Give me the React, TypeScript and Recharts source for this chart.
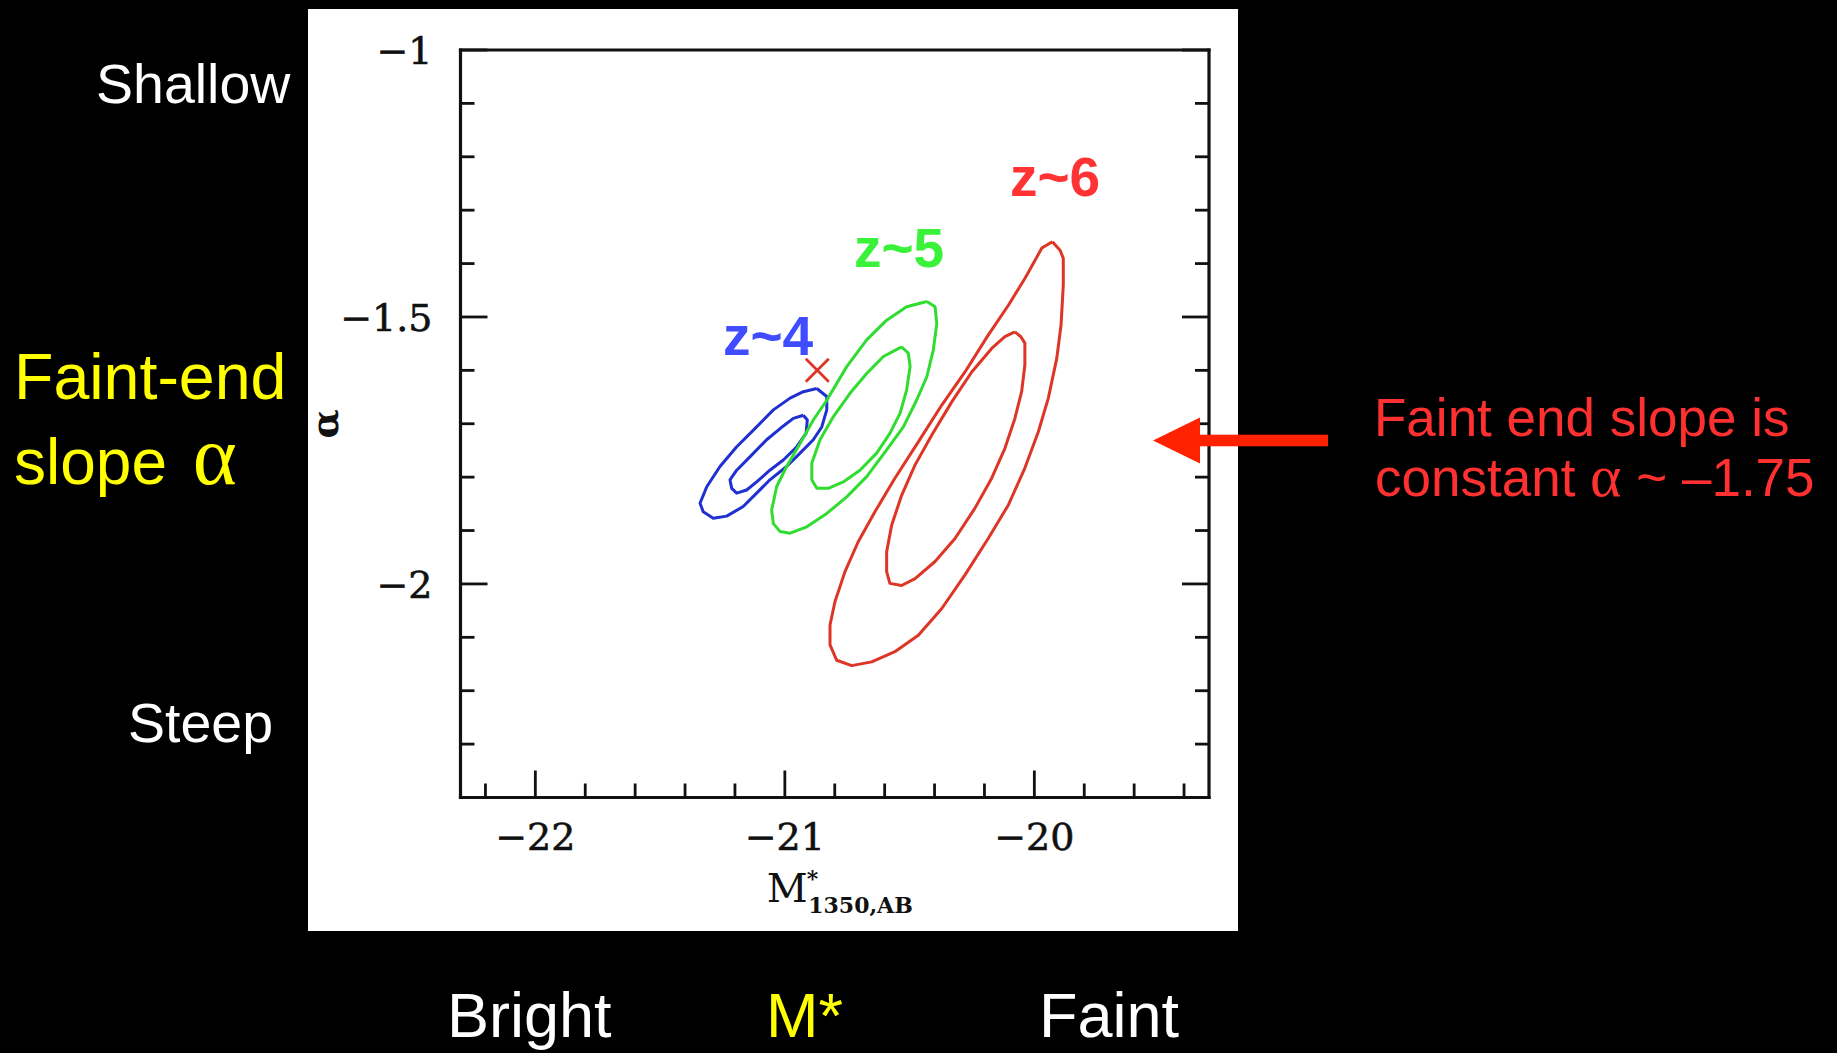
import React from 'react';
import { ComposedChart, Scatter, XAxis, YAxis } from 'recharts';

// confidence contours in the (M*, alpha) plane
const blueOuter = [
  [-20.872, -1.634], [-20.832, -1.649], [-20.832, -1.674], [-20.852, -1.706], [-20.886, -1.730],
  [-20.939, -1.755], [-20.993, -1.780], [-21.060, -1.805], [-21.113, -1.830], [-21.167, -1.855],
  [-21.233, -1.873], [-21.287, -1.877], [-21.327, -1.865], [-21.340, -1.849], [-21.313, -1.818],
  [-21.260, -1.780], [-21.193, -1.743], [-21.126, -1.712], [-21.046, -1.674], [-20.979, -1.652],
  [-20.926, -1.640],
];
const blueInner = [
  [-20.926, -1.684], [-20.910, -1.693], [-20.915, -1.718], [-20.952, -1.743], [-21.006, -1.768],
  [-21.060, -1.787], [-21.113, -1.809], [-21.153, -1.824], [-21.193, -1.830], [-21.213, -1.821],
  [-21.220, -1.805], [-21.193, -1.787], [-21.140, -1.762], [-21.073, -1.730], [-21.019, -1.709],
  [-20.966, -1.690],
];
const greenOuter = [
  [-20.431, -1.471], [-20.398, -1.481], [-20.391, -1.512], [-20.405, -1.562], [-20.431, -1.612],
  [-20.472, -1.656], [-20.525, -1.706], [-20.592, -1.749], [-20.672, -1.799], [-20.752, -1.837],
  [-20.832, -1.868], [-20.912, -1.893], [-20.979, -1.905], [-21.019, -1.902], [-21.046, -1.887],
  [-21.053, -1.862], [-21.033, -1.818], [-20.993, -1.780], [-20.939, -1.737], [-20.886, -1.693],
  [-20.832, -1.656], [-20.752, -1.593], [-20.672, -1.543], [-20.592, -1.506], [-20.512, -1.481],
];
const greenInner = [
  [-20.532, -1.556], [-20.505, -1.568], [-20.498, -1.593], [-20.512, -1.637], [-20.538, -1.680],
  [-20.579, -1.718], [-20.632, -1.755], [-20.699, -1.787], [-20.766, -1.809], [-20.826, -1.821],
  [-20.872, -1.821], [-20.892, -1.805], [-20.892, -1.774], [-20.859, -1.730], [-20.806, -1.687],
  [-20.739, -1.643], [-20.672, -1.606], [-20.605, -1.574],
];
const redOuter = [
  [-19.928, -1.359], [-19.897, -1.375], [-19.884, -1.390], [-19.884, -1.440], [-19.893, -1.515],
  [-19.910, -1.577], [-19.944, -1.652], [-19.984, -1.715], [-20.038, -1.783], [-20.104, -1.852],
  [-20.185, -1.915], [-20.278, -1.983], [-20.371, -2.046], [-20.465, -2.096], [-20.559, -2.127],
  [-20.652, -2.146], [-20.732, -2.153], [-20.792, -2.143], [-20.819, -2.114], [-20.819, -2.077],
  [-20.799, -2.033], [-20.759, -1.977], [-20.706, -1.921], [-20.639, -1.865], [-20.559, -1.802],
  [-20.465, -1.734], [-20.371, -1.665], [-20.278, -1.603], [-20.185, -1.534], [-20.104, -1.478],
  [-20.038, -1.428], [-19.970, -1.371],
];
const redInner = [
  [-20.078, -1.528], [-20.054, -1.537], [-20.038, -1.549], [-20.038, -1.590], [-20.051, -1.640],
  [-20.078, -1.690], [-20.118, -1.746], [-20.171, -1.802], [-20.238, -1.858], [-20.318, -1.915],
  [-20.398, -1.958], [-20.478, -1.990], [-20.532, -2.003], [-20.579, -1.999], [-20.592, -1.977],
  [-20.592, -1.940], [-20.572, -1.890], [-20.532, -1.834], [-20.478, -1.777], [-20.411, -1.721],
  [-20.331, -1.659], [-20.251, -1.603], [-20.171, -1.559], [-20.118, -1.537],
];
const bestFit = [[-20.87, -1.6]];

const xDomain = [-22.3, -19.3];
const yDomain = [-2.4, -1];
const xTicks = [-22.2, -22, -21.8, -21.6, -21.4, -21.2, -21, -20.8, -20.6, -20.4, -20.2, -20, -19.8, -19.6, -19.4];
const xMajor = [-22, -21, -20];
const yTicks = [-1, -1.1, -1.2, -1.3, -1.4, -1.5, -1.6, -1.7, -1.8, -1.9, -2, -2.1, -2.2, -2.3];
const yMajor = [-1, -1.5, -2];

const INK = '#111';
const MAJ = 27;
const MIN = 14;
const TW = 2.8;
const SERIF = '"DejaVu Serif", serif';
const SANS = '"Liberation Sans", Arial, sans-serif';

const toPts = (arr: number[][], close = true) => {
  const pts = arr.map(([x, y]) => ({ x, y }));
  return close ? [...pts, pts[0]] : pts;
};
const isMajor = (list: number[], v: number) => list.some((m) => Math.abs(m - v) < 1e-6);
const fmt = (v: number) => (v < 0 ? '\u2212' : '') + Math.abs(v);

const BottomTick = (p: any) => {
  const x = p.x;
  const y = p.y2 ?? p.y;
  const major = isMajor(xMajor, p.payload.value);
  return (
    <g>
      <line x1={x} y1={y} x2={x} y2={y - (major ? MAJ : MIN)} stroke={INK} strokeWidth={TW} />
      {major && (
        <text x={x} y={y + 52.5} textAnchor="middle" fontFamily={SERIF} fontSize={38} fill={INK}
          stroke={INK} strokeWidth={0.6}>
          {fmt(p.payload.value)}
        </text>
      )}
    </g>
  );
};
const TopTick = (p: any) => {
  const x = p.x;
  const y = p.y2 ?? p.y;
  const major = isMajor(xMajor, p.payload.value);
  return <line x1={x} y1={y} x2={x} y2={y + (major ? MAJ : MIN)} stroke={INK} strokeWidth={TW} />;
};
const LeftTick = (p: any) => {
  const x = p.x2 ?? p.x;
  const y = p.y;
  const major = isMajor(yMajor, p.payload.value);
  return (
    <g>
      <line x1={x} y1={y} x2={x + (major ? MAJ : MIN)} y2={y} stroke={INK} strokeWidth={TW} />
      {major && (
        <text x={x - 28} y={y + 14} textAnchor="end" fontFamily={SERIF} fontSize={38} fill={INK}
          stroke={INK} strokeWidth={0.6}>
          {fmt(p.payload.value)}
        </text>
      )}
    </g>
  );
};
const RightTick = (p: any) => {
  const x = p.x2 ?? p.x;
  const y = p.y;
  const major = isMajor(yMajor, p.payload.value);
  return <line x1={x} y1={y} x2={x - (major ? MAJ : MIN)} y2={y} stroke={INK} strokeWidth={TW} />;
};

const xTitle = (props: any) => {
  const vb = props.viewBox || {};
  const x0 = vb.x + vb.width / 2 - 68;
  const y0 = vb.y + 104;
  return (
    <text x={x0} y={y0} fontFamily={SERIF} fontSize={40} fill={INK}>
      M
      <tspan fontSize={22} fontWeight="bold" dx={-1} dy={-16}>*</tspan>
      <tspan fontSize={22} fontWeight="bold" dx={-10} dy={27.5}>1350,AB</tspan>
    </text>
  );
};
const yTitle = (props: any) => {
  const vb = props.viewBox || {};
  const cx = vb.x + vb.width - 136;
  const cy = vb.y + vb.height / 2;
  return (
    <text x={cx} y={cy} transform={`rotate(-90 ${cx} ${cy})`} textAnchor="middle" dominantBaseline="central"
      fontFamily={SERIF} fontSize={38} fontWeight="bold" fill={INK}>α</text>
  );
};

const noDot = () => <g />;
const cross = (p: any) => (
  <g stroke="#dd3526" strokeWidth={2.8}>
    <line x1={p.cx - 11.5} y1={p.cy - 11.5} x2={p.cx + 11.5} y2={p.cy + 11.5} />
    <line x1={p.cx - 11.5} y1={p.cy + 11.5} x2={p.cx + 11.5} y2={p.cy - 11.5} />
  </g>
);

const contours = [
  { name: 'z4-outer', pts: blueOuter, color: '#1f2fd0' },
  { name: 'z4-inner', pts: blueInner, color: '#1f2fd0' },
  { name: 'z5-outer', pts: greenOuter, color: '#30dc30' },
  { name: 'z5-inner', pts: greenInner, color: '#30dc30' },
  { name: 'z6-outer', pts: redOuter, color: '#dd3526' },
  { name: 'z6-inner', pts: redInner, color: '#dd3526' },
];

export default function App() {
  return (
    <div style={{ position: 'fixed', left: 0, top: 0, width: 1837, height: 1053, background: '#000', overflow: 'hidden' }}>
      <div style={{ position: 'absolute', left: 308, top: 9, width: 930, height: 922, background: '#fff' }}>
        <ComposedChart width={930} height={922} margin={{ top: 31, right: 19, bottom: 33.5, left: 52.5 }}
          style={{ overflow: 'visible' }}>
          <XAxis xAxisId="b" dataKey="x" type="number" orientation="bottom" domain={xDomain} ticks={xTicks}
            interval={0} allowDataOverflow height={100} tickSize={0} tickMargin={0} tickLine={false}
            axisLine={{ stroke: INK, strokeWidth: 3.2, strokeLinecap: 'square' }} tick={<BottomTick />}
            label={{ value: 'M*1350,AB', content: xTitle }} />
          <XAxis xAxisId="t" type="number" orientation="top" domain={xDomain} ticks={xTicks}
            interval={0} allowDataOverflow height={10} tickSize={0} tickMargin={0} tickLine={false}
            axisLine={{ stroke: INK, strokeWidth: 3.2, strokeLinecap: 'square' }} tick={<TopTick />} />
          <YAxis yAxisId="l" dataKey="y" type="number" orientation="left" domain={yDomain} ticks={yTicks}
            interval={0} allowDataOverflow width={100} tickSize={0} tickMargin={0} tickLine={false}
            axisLine={{ stroke: INK, strokeWidth: 3.2, strokeLinecap: 'square' }} tick={<LeftTick />}
            label={{ value: 'α', content: yTitle }} />
          <YAxis yAxisId="r" type="number" orientation="right" domain={yDomain} ticks={yTicks}
            interval={0} allowDataOverflow width={10} tickSize={0} tickMargin={0} tickLine={false}
            axisLine={{ stroke: INK, strokeWidth: 3.2, strokeLinecap: 'square' }} tick={<RightTick />} />
          {contours.map((c) => (
            <Scatter key={c.name} name={c.name} xAxisId="b" yAxisId="l" data={toPts(c.pts)}
              fill="none" stroke={c.color} strokeWidth={3}
              line={{ stroke: c.color, strokeWidth: 3, strokeLinejoin: 'round' }}
              shape={noDot} isAnimationActive={false} />
          ))}
          <Scatter name="best-fit" xAxisId="b" yAxisId="l" data={toPts(bestFit, false)} fill="none"
            shape={cross} isAnimationActive={false} />
        </ComposedChart>
      </div>

      <svg width={1837} height={1053} style={{ position: 'absolute', left: 0, top: 0, pointerEvents: 'none' }}>
        <g fontFamily={SANS}>
          <text x={96} y={103} fontSize={55.5} fill="#fff">Shallow</text>
          <text x={14} y={399} fontSize={64.5} fill="#ffff00">Faint-end</text>
          <text x={14} y={484} fontSize={64} fill="#ffff00">
            slope <tspan dx={8} fontFamily={'"Liberation Serif", serif'} fontSize={84}>α</tspan>
          </text>
          <text x={128} y={742} fontSize={55.5} fill="#fff">Steep</text>

          <text x={723} y={355} fontSize={55} fontWeight="bold" fill="#3f4cff">z~4</text>
          <text x={854} y={267} fontSize={55} fontWeight="bold" fill="#3af23a">z~5</text>
          <text x={1010} y={196} fontSize={55} fontWeight="bold" fill="#ff3333">z~6</text>

          <text x={1374} y={436} fontSize={53} fill="#ff3030">Faint end slope is</text>
          <text x={1375} y={496} fontSize={53} fill="#ff3030">
            constant <tspan fontFamily={'"Liberation Serif", serif'} fontSize={60}>α</tspan> ~ –1.75
          </text>

          <text x={447} y={1037} fontSize={63} fill="#fff">Bright</text>
          <text x={766} y={1037} fontSize={63} fill="#ffff00">M*</text>
          <text x={1039} y={1037} fontSize={63} fill="#fff">Faint</text>
        </g>
        <rect x={1196} y={434.7} width={132} height={11.6} fill="#ff2200" />
        <polygon points="1153,440.5 1200,417.5 1200,463.5" fill="#ff2200" />
      </svg>
    </div>
  );
}
